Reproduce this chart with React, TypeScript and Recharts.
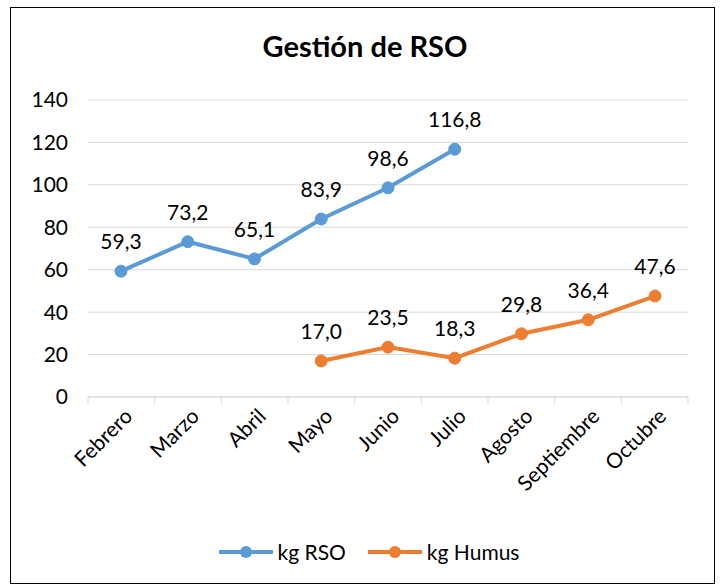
import React from 'react';
import { LineChart, Line, XAxis, YAxis, CartesianGrid, LabelList } from 'recharts';

const categories = ['Febrero', 'Marzo', 'Abril', 'Mayo', 'Junio', 'Julio', 'Agosto', 'Septiembre', 'Octubre'];
const rsoValues: (number | null)[] = [59.3, 73.2, 65.1, 83.9, 98.6, 116.8, null, null, null];
const humusValues: (number | null)[] = [null, null, null, 17.0, 23.5, 18.3, 29.8, 36.4, 47.6];
const yTicks = [0, 20, 40, 60, 80, 100, 120, 140];
const boundaryTicks = [0, 1, 2, 3, 4, 5, 6, 7, 8, 9];

const data = categories.map((c, i) => ({ name: c, idx: i + 0.5, rso: rsoValues[i], humus: humusValues[i] }));

const BLUE = '#5B9BD5';
const ORANGE = '#ED7D31';
const FONT = 'Lato, "Open Sans", sans-serif';

const fmt = (v: any) => (v == null ? '' : Number(v).toFixed(1).replace('.', ','));

const XTick = (props: any) => {
  const { x, y, payload } = props;
  return (
    <g transform={`translate(${x + 7},${y + 6})`}>
      <text x={0} y={0} dy={8} textAnchor="end" transform="rotate(-45)" fill="#000" fontSize={21} fontFamily={FONT}>
        {payload.value}
      </text>
    </g>
  );
};

const LegendItem = ({ color, label, mr }: { color: string; label: string; mr: number }) => (
  <div style={{ display: 'flex', alignItems: 'center', marginRight: mr }}>
    <svg width={54} height={16}>
      <line x1={0} y1={8} x2={54} y2={8} stroke={color} strokeWidth={4} />
      <circle cx={27} cy={8} r={6} fill={color} />
    </svg>
    <span style={{ marginLeft: 5, fontSize: 21, fontFamily: FONT, color: '#000' }}>{label}</span>
  </div>
);

export default function App() {
  return (
    <div style={{ position: 'absolute', left: 0, top: 0, width: 723, height: 587, background: '#fff' }}>
      <div style={{ position: 'absolute', left: 10, top: 7, width: 705, height: 577, border: '1px solid #000', boxSizing: 'border-box' }} />
      <div style={{ position: 'absolute', left: 0, top: 28, width: 730, textAlign: 'center', fontFamily: FONT, fontWeight: 700, fontSize: 29, color: '#000' }}>
        Gestión de RSO
      </div>
      <div style={{ position: 'absolute', left: 0, top: 0 }}>
        <LineChart width={723} height={587} data={data} margin={{ top: 100, right: 35, left: 28, bottom: 80 }}>
          <CartesianGrid vertical={false} stroke="#d9d9d9" xAxisId="cat" />
          <XAxis
            xAxisId="bnd"
            type="number"
            dataKey="idx"
            domain={[0, 9]}
            ticks={boundaryTicks}
            height={1}
            stroke="#d9d9d9"
            tickSize={7}
            tick={() => <g />}
            allowDataOverflow
          />
          <XAxis
            xAxisId="cat"
            dataKey="name"
            axisLine={false}
            tickLine={false}
            tick={<XTick />}
            interval={0}
            height={109}
            padding={{ left: 33, right: 33 }}
          />
          <YAxis
            domain={[0, 140]}
            ticks={yTicks}
            axisLine={false}
            tickLine={false}
            width={60}
            tickMargin={14}
            tick={{ fill: '#000', fontSize: 21, fontFamily: FONT }}
          />
          <Line xAxisId="cat" dataKey="rso" stroke={BLUE} strokeWidth={4} dot={{ r: 6, fill: BLUE, stroke: BLUE, strokeWidth: 1 }} isAnimationActive={false} connectNulls={false}>
            <LabelList dataKey="rso" position="top" offset={22} formatter={fmt} fill="#000" fontSize={21} fontFamily={FONT} />
          </Line>
          <Line xAxisId="cat" dataKey="humus" stroke={ORANGE} strokeWidth={4} dot={{ r: 6, fill: ORANGE, stroke: ORANGE, strokeWidth: 1 }} isAnimationActive={false} connectNulls={false}>
            <LabelList dataKey="humus" position="top" offset={22} formatter={fmt} fill="#000" fontSize={21} fontFamily={FONT} />
          </Line>
        </LineChart>
      </div>
      <div style={{ position: 'absolute', left: 0, top: 539, width: 738, display: 'flex', justifyContent: 'center' }}>
        <LegendItem color={BLUE} label="kg RSO" mr={22} />
        <LegendItem color={ORANGE} label="kg Humus" mr={0} />
      </div>
    </div>
  );
}
